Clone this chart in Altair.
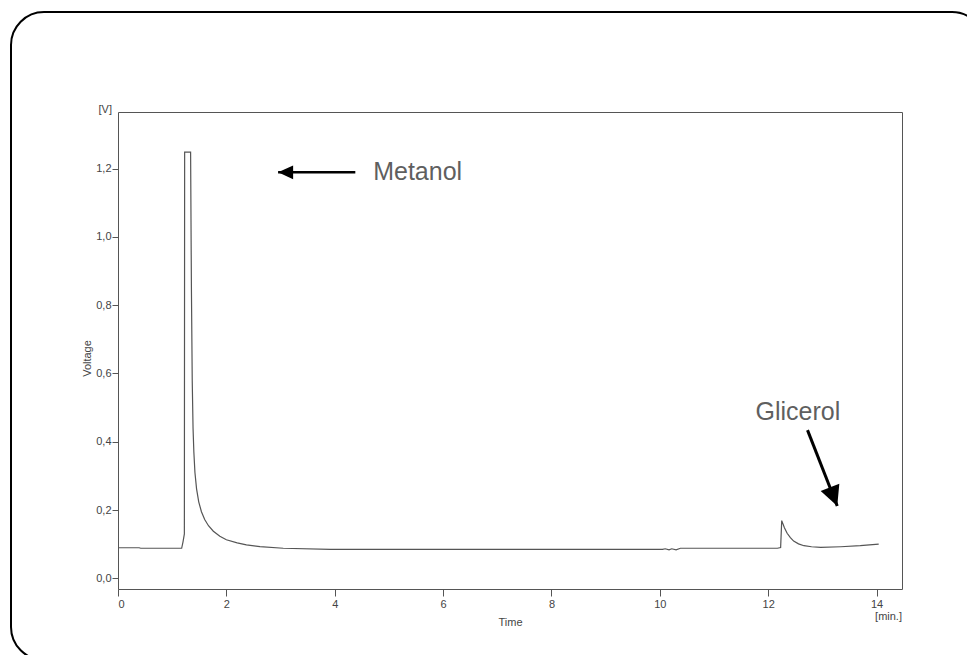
import altair as alt
import pandas as pd

# Chromatogram trace: retention time [min] and detector voltage [V]
time_min = [
    0.00, 0.39, 0.42, 1.175, 1.20, 1.225, 1.23, 1.34,
    1.355, 1.37, 1.385, 1.40, 1.42, 1.45, 1.49, 1.54, 1.60, 1.67, 1.76,
    1.88, 2.00, 2.20, 2.37, 2.62, 3.05, 3.92,
    10.05, 10.10, 10.17, 10.22, 10.30, 10.38,
    12.17, 12.23, 12.25, 12.30, 12.35, 12.41, 12.47, 12.56, 12.66, 12.80,
    12.97, 13.34, 13.70, 14.04,
]
voltage = [
    0.0895, 0.0895, 0.088, 0.088, 0.107, 0.13, 1.248, 1.248,
    0.85, 0.58, 0.44, 0.37, 0.31, 0.262, 0.224, 0.195, 0.172, 0.154, 0.138,
    0.123, 0.113, 0.104, 0.098, 0.093, 0.088, 0.085,
    0.085, 0.0865, 0.0835, 0.0865, 0.0835, 0.088,
    0.088, 0.090, 0.169, 0.148, 0.132, 0.119, 0.109, 0.101, 0.0955, 0.0925,
    0.0907, 0.0925, 0.0955, 0.1004,
]

# Axis ticks
x_ticks = [0, 2, 4, 6, 8, 10, 12, 14]
y_ticks = [0.0, 0.2, 0.4, 0.6, 0.8, 1.0, 1.2]

# Peak annotations: label text and its anchor (time, voltage)
peak_names = ["Metanol", "Glicerol"]
label_time = [4.71, 11.766]
label_volt = [1.189, 0.487]

# Annotation arrows: tail and tip (time, voltage)
arrow_tail_t = [4.38, 12.726]
arrow_tail_v = [1.189, 0.434]
arrow_tip_t = [2.955, 13.275]
arrow_tip_v = [1.189, 0.2116]

FONT = "Liberation Sans"
LINE_GRAY = "#555555"
TEXT_GRAY = "#444444"
SMALL = 11

trace = pd.DataFrame({"t": time_min, "v": voltage, "i": list(range(len(time_min)))})
labels = pd.DataFrame({"name": peak_names, "t": label_time, "v": label_volt})

x_scale = alt.Scale(domain=[0, 14.47], nice=False, zero=False)
y_scale = alt.Scale(domain=[-0.0313, 1.3657], nice=False, zero=False)

trace_line = alt.Chart(trace).mark_line(
    color=LINE_GRAY, strokeWidth=1.2, strokeJoin="miter"
).encode(
    x=alt.X(
        "t:Q", scale=x_scale,
        axis=alt.Axis(values=x_ticks, title="Time", tickSize=7, labelPadding=2,
                      titleY=33, titleBaseline="middle"),
    ),
    y=alt.Y(
        "v:Q", scale=y_scale,
        axis=alt.Axis(values=y_ticks, format=".1f",
                      labelExpr="replace(datum.label, '.', ',')",
                      title="Voltage", tickSize=6, labelPadding=1,
                      titleX=-31, titleY=246, titleBaseline="middle"),
    ),
    order="i:Q",
)

peak_labels = alt.Chart(labels).mark_text(
    align="left", baseline="middle", font=FONT, fontSize=25, color="#5f5f5f"
).encode(x=alt.X("t:Q", scale=x_scale), y=alt.Y("v:Q", scale=y_scale), text="name:N")


def arrow(k, angle, head_size, half_width, width):
    seg = pd.DataFrame({
        "t": [arrow_tail_t[k]], "v": [arrow_tail_v[k]],
        "t2": [arrow_tip_t[k]], "v2": [arrow_tip_v[k]],
    })
    shaft = alt.Chart(seg).mark_rule(color="black", strokeWidth=width, strokeCap="butt").encode(
        x=alt.X("t:Q", scale=x_scale), y=alt.Y("v:Q", scale=y_scale), x2="t2:Q", y2="v2:Q"
    )
    head_path = f"M0,0L{half_width},1L-{half_width},1Z"
    head = alt.Chart(seg).mark_point(
        shape=head_path, filled=True, color="black", opacity=1,
        size=head_size, angle=angle, strokeWidth=0,
    ).encode(x=alt.X("t2:Q", scale=x_scale), y=alt.Y("v2:Q", scale=y_scale))
    return shaft + head


# Rounded frame around the whole figure
frame = alt.Chart(pd.DataFrame({"k": [0]})).mark_rect(
    fillOpacity=0, stroke="black", strokeWidth=2, cornerRadius=33
).encode(x=alt.value(-107), x2=alt.value(867), y=alt.value(-100), y2=alt.value(548))

unit_v = alt.Chart(pd.DataFrame({"k": [0]})).mark_text(
    text="[V]", align="right", baseline="middle", font=FONT, fontSize=SMALL, color=TEXT_GRAY
).encode(x=alt.value(-6), y=alt.value(-2))

unit_min = alt.Chart(pd.DataFrame({"k": [0]})).mark_text(
    text="[min.]", align="right", baseline="middle", font=FONT, fontSize=SMALL, color=TEXT_GRAY
).encode(x=alt.value(784), y=alt.value(505))

chart = alt.layer(
    frame,
    trace_line,
    peak_labels,
    arrow(0, 270, 900, 0.46, 2.5),
    arrow(1, 158.7, 1600, 0.5, 3),
    unit_v,
    unit_min,
).properties(
    width=784,
    height=477,
    autosize=alt.AutoSizeParams(type="none"),
    padding={"left": 118, "top": 112, "right": 65, "bottom": 66},
    background="white",
).configure_view(
    stroke=LINE_GRAY, strokeWidth=1
).configure_axis(
    domain=False, grid=False, ticks=True,
    tickColor=LINE_GRAY, tickWidth=1,
    labelFont=FONT, labelFontSize=SMALL, labelColor=TEXT_GRAY,
    titleFont=FONT, titleFontSize=SMALL, titleFontWeight="normal", titleColor=TEXT_GRAY,
)

chart.save("out.html", embed_options={"renderer": "svg", "actions": False})
